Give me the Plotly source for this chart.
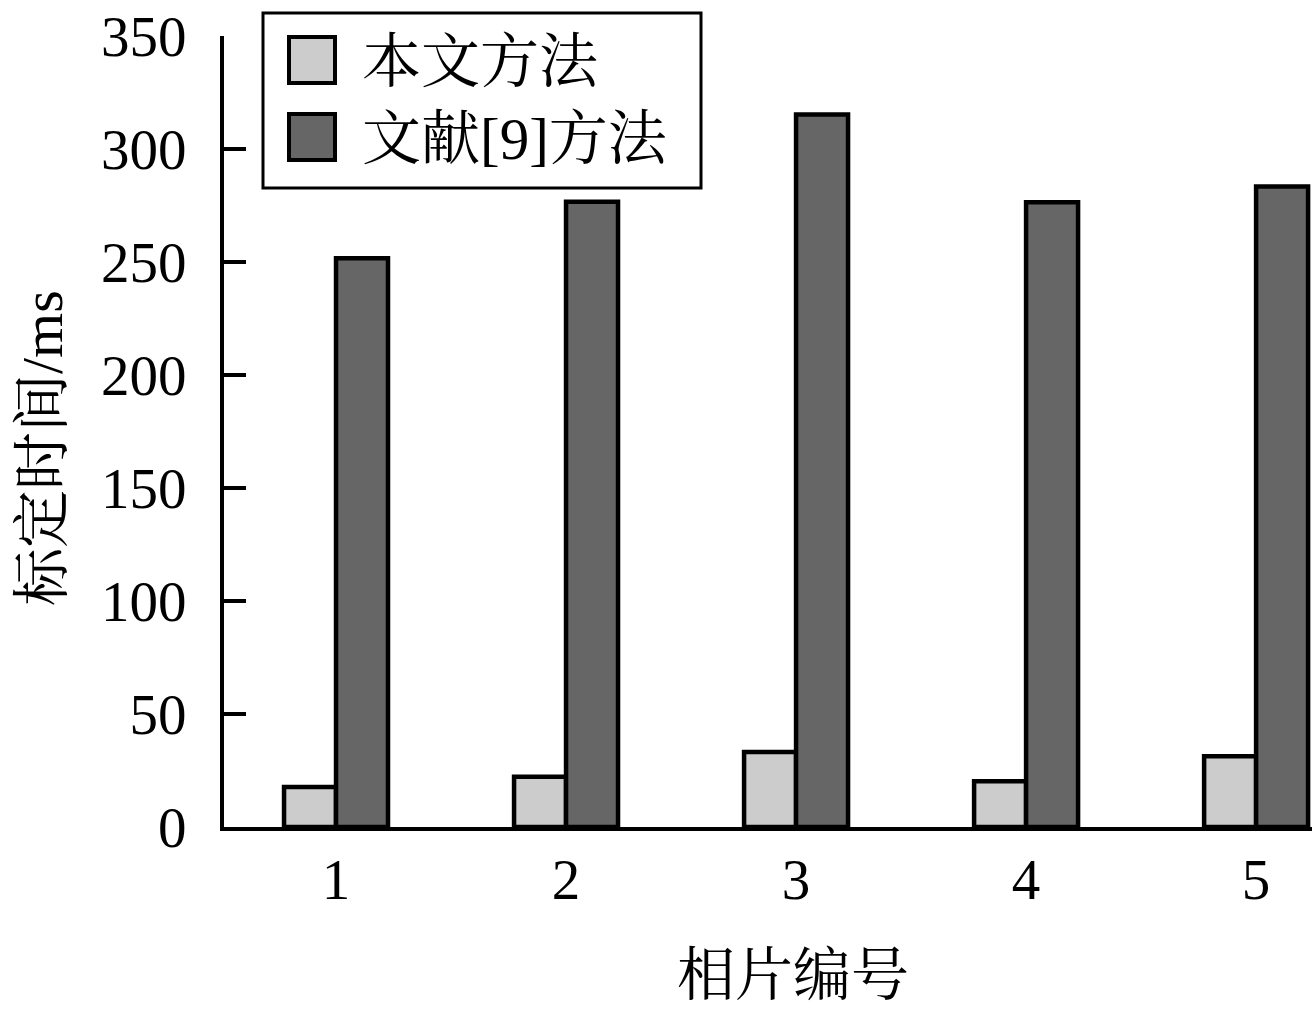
import plotly.graph_objects as go

categories = [1, 2, 3, 4, 5]
tick_labels = ["1", "2", "3", "4", "5"]
ours = [17.7, 22.2, 33.2, 20.2, 31.3]
ref9 = [251.7, 276.7, 315.3, 276.4, 283.4]
series_names = ["本文方法", "文献[9]方法"]
y_ticks = [0, 50, 100, 150, 200, 250, 300, 350]

W, H = 1312, 1014
L, R, T, B = 224, 0, 36, 187
FONT = "Liberation Serif, Noto Serif CJK SC, Noto Sans CJK SC, serif"
LIGHT = "#cccccc"
DARK = "#666666"


def px(x):
    return (x - L) / (W - L - R)


def py(y):
    return 1 - (y - T) / (H - T - B)


fig = go.Figure()
fig.add_trace(go.Bar(x=categories, y=ours, name=series_names[0], width=0.226, offset=-0.226,
                     marker=dict(color=LIGHT, line=dict(color="black", width=4.5)), showlegend=False))
fig.add_trace(go.Bar(x=categories, y=ref9, name=series_names[1], width=0.226, offset=0,
                     marker=dict(color=DARK, line=dict(color="black", width=4.5)), showlegend=False))

# custom legend
shapes = [dict(type="rect", xref="paper", yref="paper", x0=px(263), x1=px(701), y0=py(13), y1=py(188),
               line=dict(color="black", width=3), fillcolor="white", layer="above")]
annotations = []
for i, (name, col) in enumerate(zip(series_names, [LIGHT, DARK])):
    yc = 60 + i * 77
    shapes.append(dict(type="rect", xref="paper", yref="paper", x0=px(289), x1=px(335),
                       y0=py(yc - 23), y1=py(yc + 23), line=dict(color="black", width=4),
                       fillcolor=col, layer="above"))
    annotations.append(dict(text=name, xref="paper", yref="paper", x=px(360), y=py(yc + 2),
                            xanchor="left", yanchor="middle", showarrow=False,
                            font=dict(family=FONT, size=59, color="black")))

annotations.append(dict(text="相片编号", xref="paper", yref="paper", x=px(793), y=py(975),
                        xanchor="center", yanchor="middle", showarrow=False,
                        font=dict(family=FONT, size=58, color="black")))
annotations.append(dict(text="标定时间/ms", xref="paper", yref="paper", x=px(42), y=py(448),
                        xanchor="center", yanchor="middle", showarrow=False, textangle=-90,
                        font=dict(family=FONT, size=58, color="black")))

fig.update_layout(
    width=W, height=H, autosize=False,
    margin=dict(l=L, r=R, t=T, b=B, pad=0),
    paper_bgcolor="white", plot_bgcolor="white",
    barmode="overlay",
    font=dict(family=FONT, size=58, color="black"),
    shapes=shapes, annotations=annotations,
    xaxis=dict(range=[0.513, 5.243], tickvals=categories, ticktext=tick_labels, ticks="",
               showline=True, linecolor="black", linewidth=4, showgrid=False, zeroline=False,
               tickfont=dict(family=FONT, size=57), ticklabelstandoff=0),
    yaxis=dict(range=[0, 350], tickvals=y_ticks, ticks="inside", ticklen=22, tickwidth=4,
               tickcolor="black", showline=True, linecolor="black", linewidth=4,
               showgrid=False, zeroline=False, tickfont=dict(family=FONT, size=57),
               ticklabelstandoff=22),
)

fig.write_html("out.html", config={"displayModeBar": False},
               post_script="document.body.style.margin='0';")
